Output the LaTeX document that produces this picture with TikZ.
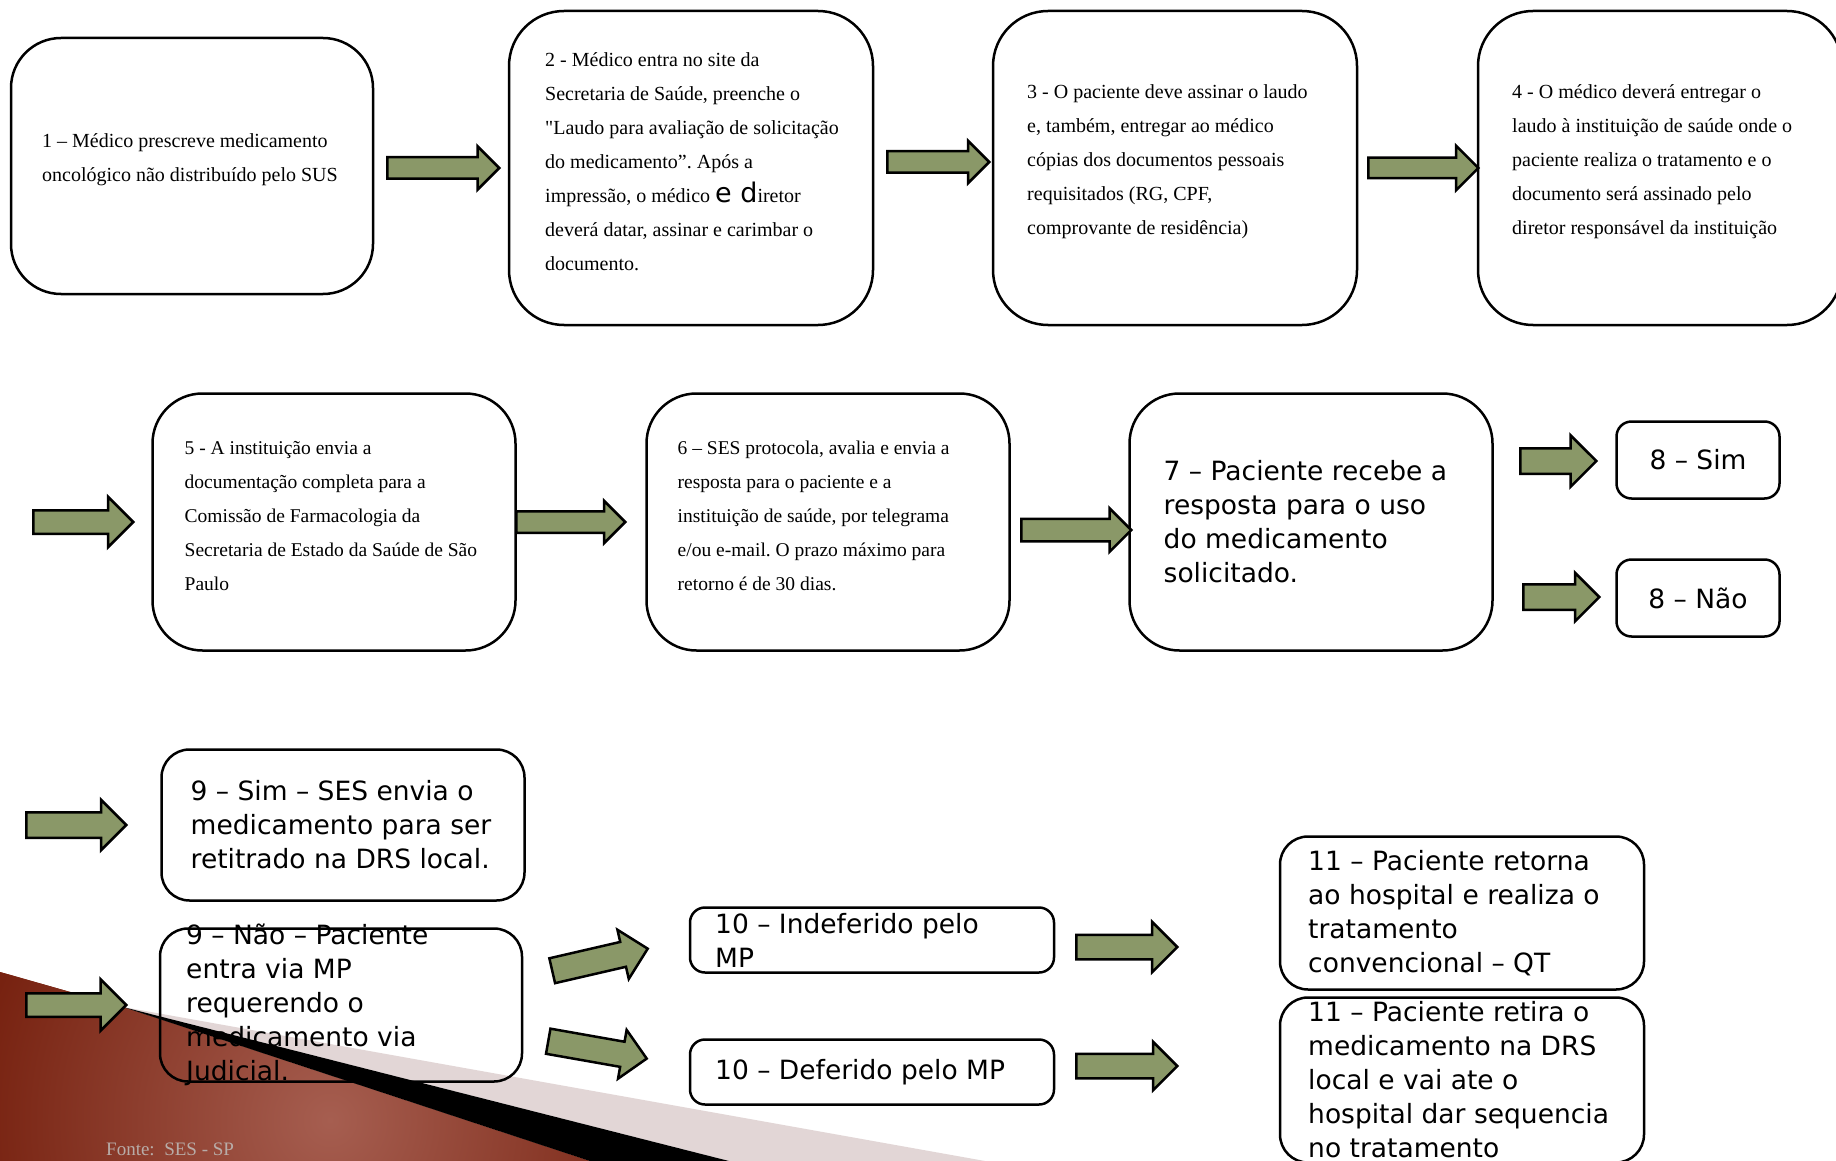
\documentclass[tikz,border=0pt]{standalone}
\usepackage{fontspec}
\setmainfont{Liberation Serif}
\newfontfamily\srf{Liberation Serif}
\newfontfamily\dvs{DejaVu Sans}
\usetikzlibrary{shapes.arrows}
\definecolor{arrowfill}{HTML}{8A9868}
\definecolor{pinkband}{HTML}{E2D6D6}
\definecolor{reddark}{HTML}{741E0C}
\definecolor{redlight}{HTML}{A65E50}
\definecolor{fontegray}{HTML}{B8ACA8}
\frenchspacing
\tikzset{
  flowbox/.style n args={3}{draw, line width=2.5pt, rounded corners=#3, minimum width=#1, minimum height=#2, inner sep=0pt, outer sep=0pt},
  sertxt/.style={font=\srf\fontsize{20}{34}\selectfont, align=left, inner sep=0pt, anchor=west, yshift=6pt},
  sertxtb/.style={font=\srf\fontsize{19.5}{34}\selectfont, align=left, inner sep=0pt, anchor=west, yshift=6pt},
  santxt/.style={font=\dvs\fontsize{26.5}{34}\selectfont, align=left, inner sep=0pt, anchor=west},
  blockarr/.style n args={3}{shape=single arrow, draw=black, line width=2.5pt, fill=arrowfill, inner xsep=0pt, inner ysep=#2, minimum height=#1, single arrow head extend=#3, single arrow head indent=0pt, anchor=tail},
}
\begin{document}
\begin{tikzpicture}[x=1pt,y=-1pt]
\useasboundingbox (0,0) rectangle (1836,1161);
\clip (0,0) rectangle (1836,1161);
\fill[white] (0,0) rectangle (1836,1161);

% decoration (background)
\begin{scope}
  \clip (0,972) -- (123,1007) -- (590,1161) -- (0,1161) -- cycle;
  \fill[reddark] (0,960) rectangle (600,1161);
  \shade[inner color=redlight, outer color=reddark] (330,1120) circle (380);
\end{scope}
\fill[pinkband] (123,1007) -- (985,1161) -- (729,1161) -- cycle;
\node[font=\srf\fontsize{19}{22}\selectfont, text=fontegray, anchor=base west, inner sep=0pt] (src) at (106,1155) {Fonte:~ SES - SP};

% row 1
\node[flowbox={362pt}{256pt}{50pt}] (b1) at (192,166) {};
\node[flowbox={364pt}{314pt}{55pt}] (b2) at (691,168) {};
\node[flowbox={364pt}{314pt}{55pt}] (b3) at (1175,168) {};
\node[flowbox={364pt}{314pt}{55pt}] (b4) at (1660,168) {};

\node[sertxt] (t1) at ([xshift=31pt]b1.west) {1 – Médico prescreve medicamento\\oncológico não distribuído pelo SUS};
\node[sertxt] (t2) at ([xshift=36pt]b2.west) {2 - Médico entra no site da\\Secretaria de Saúde, preenche o\\"Laudo para avaliação de solicitação\\do medicamento”. Após a\\impressão, o médico {\dvs\fontsize{27}{34}\selectfont e d}iretor\\deverá datar, assinar e carimbar o\\documento.};
\node[sertxt] (t3) at ([xshift=34pt]b3.west) {3 - O paciente deve assinar o laudo\\e, também, entregar ao médico\\cópias dos documentos pessoais\\requisitados (RG, CPF,\\comprovante de residência)};
\node[sertxt] (t4) at ([xshift=34pt]b4.west) {4 - O médico deverá entregar o\\laudo à instituição de saúde onde o\\paciente realiza o tratamento e o\\documento será assinado pelo\\diretor responsável da instituição};

\node[blockarr={112pt}{9.5pt}{11pt}] (a1) at (386,168) {};
\node[blockarr={102pt}{9.5pt}{10.5pt}] (a2) at (886,162) {};
\node[blockarr={110pt}{9pt}{12pt}] (a3) at (1367,168) {};

% row 2
\node[flowbox={363pt}{257pt}{50pt}] (b5) at (334,522) {};
\node[flowbox={363pt}{257pt}{50pt}] (b6) at (828,522) {};
\node[flowbox={363pt}{257pt}{50pt}] (b7) at (1311,522) {};
\node[flowbox={163pt}{77pt}{15pt}] (b8s) at (1698,460) {};
\node[flowbox={163pt}{77pt}{15pt}] (b8n) at (1698,598) {};

\node[sertxtb] (t5) at ([xshift=32pt]b5.west) {5 - A instituição envia a\\documentação completa para a\\Comissão de Farmacologia da\\Secretaria de Estado da Saúde de São\\Paulo};
\node[sertxtb] (t6) at ([xshift=31pt]b6.west) {6 – SES protocola, avalia e envia a\\resposta para o paciente e a\\instituição de saúde, por telegrama\\e/ou e-mail. O prazo máximo para\\retorno é de 30 dias.};
\node[santxt] (t7) at ([xshift=34pt]b7.west) {7 – Paciente recebe a\\resposta para o uso\\do medicamento\\solicitado.};
\node[santxt, anchor=center] (t8s) at (b8s) {8 – Sim};
\node[santxt, anchor=center] (t8n) at (b8n) {8 – Não};

\node[blockarr={100pt}{10.5pt}{13.5pt}] (a4) at (32,522) {};
\node[blockarr={109pt}{9.5pt}{10.5pt}] (a5) at (515,522) {};
\node[blockarr={110pt}{10pt}{10.5pt}] (a6) at (1020,530) {};
\node[blockarr={76pt}{11.5pt}{13pt}] (a7) at (1519,461) {};
\node[blockarr={76pt}{11.5pt}{11.5pt}] (a8) at (1522,597) {};

% row 3
\node[flowbox={363pt}{151pt}{28pt}] (b9s) at (343,825) {};
\node[flowbox={362pt}{153pt}{28pt}] (b9n) at (341,1005) {};
\node[flowbox={364pt}{65pt}{15pt}] (b10i) at (872,940) {};
\node[flowbox={364pt}{65pt}{15pt}] (b10d) at (872,1072) {};
\node[flowbox={364pt}{153pt}{28pt}] (b11a) at (1462,913) {};
\node[flowbox={364pt}{165pt}{28pt}] (b11b) at (1462,1080) {};

\node[santxt] (t9s) at ([xshift=29pt]b9s.west) {9 – Sim – SES envia o\\medicamento para ser\\retitrado na DRS local.};
\node[santxt] (t9n) at ([xshift=26pt]b9n.west) {9 – Não – Paciente\\entra via MP\\requerendo o\\medicamento via\\Judicial.};
\node[santxt] (t10i) at ([xshift=25pt]b10i.west) {10 – Indeferido pelo\\MP};
\node[santxt] (t10d) at ([xshift=25pt]b10d.west) {10 – Deferido pelo MP};
\node[santxt] (t11a) at ([xshift=28pt]b11a.west) {11 – Paciente retorna\\ao hospital e realiza o\\tratamento\\convencional – QT};
\node[santxt] (t11b) at ([xshift=28pt]b11b.west) {11 – Paciente retira o\\medicamento na DRS\\local e vai ate o\\hospital dar sequencia\\no tratamento};

\node[blockarr={100pt}{11.5pt}{12.5pt}] (a9) at (25,825) {};
\node[blockarr={100pt}{10.5pt}{14pt}] (a10) at (25,1005) {};
\node[blockarr={98pt}{11.5pt}{12.5pt}, rotate=13] (a11) at (551,971) {};
\node[blockarr={100pt}{11.5pt}{12pt}, rotate=-10] (a12) at (547,1041) {};
\node[blockarr={101pt}{11pt}{13pt}] (a13) at (1075,947) {};
\node[blockarr={101pt}{11pt}{12pt}] (a14) at (1075,1066) {};

% black wedge on top
\fill[black] (123,1007) -- (729,1161) -- (590,1161) -- cycle;
\end{tikzpicture}
\end{document}
